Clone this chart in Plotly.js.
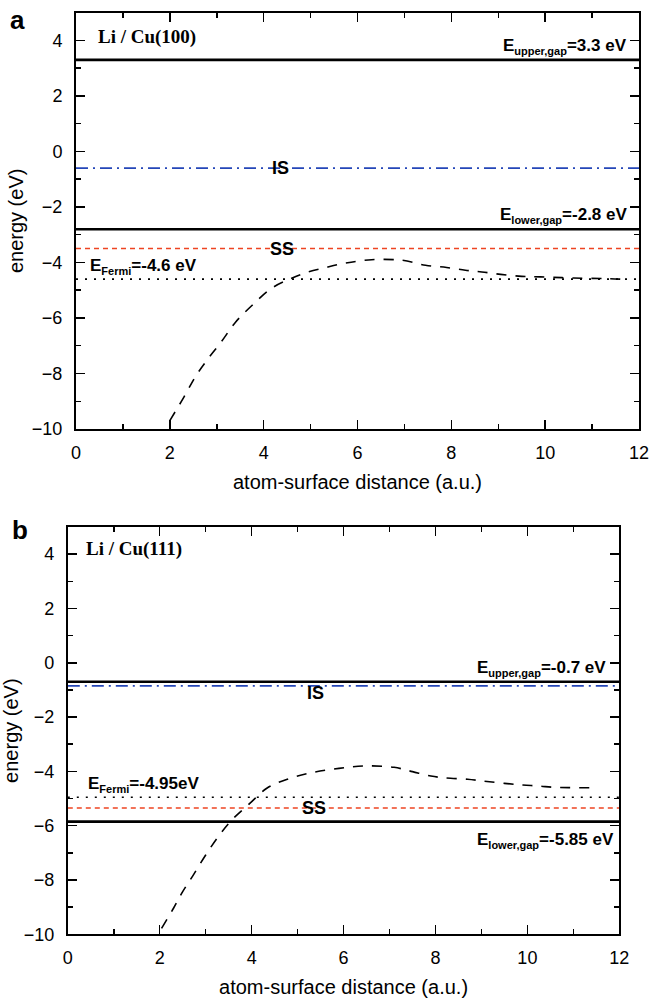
<!DOCTYPE html>
<html>
<head>
<meta charset="utf-8">
<script src="https://cdn.plot.ly/plotly-3.0.1.min.js"></script>
<style>html,body{margin:0;padding:0;background:#fff;}#plot{width:652px;height:1005px;}</style>
</head>
<body>
<div id="plot"></div>
<script>
// ---------- Data ----------
// Panel a: Li / Cu(100)
const levelNamesA = ['E_upper,gap', 'IS', 'E_lower,gap', 'SS', 'E_Fermi'];
const levelValuesA = [3.3, -0.6, -2.8, -3.5, -4.6];
const curveXA = [2.0, 2.3, 2.55, 2.8, 3.1, 3.4, 3.75, 4.15, 4.55, 4.9, 5.35, 5.75, 6.3, 6.95, 7.45, 7.9, 8.3, 8.65, 9.05, 9.5, 9.9, 10.6, 11.3, 11.6];
const curveYA = [-9.7, -8.85, -8.1, -7.5, -6.85, -6.15, -5.55, -4.95, -4.6, -4.37, -4.17, -4.02, -3.9, -3.92, -4.1, -4.18, -4.28, -4.34, -4.43, -4.5, -4.52, -4.56, -4.58, -4.6];

// Panel b: Li / Cu(111)
const levelNamesB = ['E_upper,gap', 'IS', 'E_Fermi', 'SS', 'E_lower,gap'];
const levelValuesB = [-0.7, -0.85, -4.95, -5.35, -5.85];
const curveXB = [2.04, 2.3, 2.5, 2.73, 3.0, 3.27, 3.57, 3.96, 4.33, 4.76, 5.3, 5.9, 6.5, 7.1, 7.5, 7.9, 8.2, 8.7, 9.05, 9.5, 9.9, 10.25, 10.6, 11.0, 11.5];
const curveYB = [-9.78, -9.04, -8.43, -7.82, -7.08, -6.41, -5.79, -5.18, -4.62, -4.3, -4.05, -3.89, -3.8, -3.85, -4.01, -4.17, -4.24, -4.29, -4.36, -4.44, -4.5, -4.54, -4.59, -4.6, -4.6];

const xRange = [0, 12];
const yRange = [-10, 5];
const xTickVals = [0, 2, 4, 6, 8, 10, 12];
const yTickVals = [-10, -8, -6, -4, -2, 0, 2, 4];

// ---------- Styles ----------
const FONT = 'Liberation Sans, Arial, sans-serif';
const styleFor = {
  'E_upper,gap': {color: '#000', width: 2.6, dash: 'solid'},
  'E_lower,gap': {color: '#000', width: 2.6, dash: 'solid'},
  'IS': {color: '#2446b8', width: 1.7, dash: '12px,5px,2px,5px'},
  'SS': {color: '#ee4422', width: 1.5, dash: '5px,4px'},
  'E_Fermi': {color: '#000', width: 1.6, dash: '2px,7px'}
};

function levelTraces(names, values, xa, ya) {
  return names.map((n, i) => ({
    type: 'scatter', mode: 'lines', name: n,
    x: [xRange[0], xRange[1]], y: [values[i], values[i]],
    xaxis: xa, yaxis: ya, line: styleFor[n], hoverinfo: 'skip', showlegend: false
  }));
}

const data = [
  ...levelTraces(levelNamesA, levelValuesA, 'x', 'y'),
  {type: 'scatter', mode: 'lines', x: curveXA, y: curveYA, xaxis: 'x', yaxis: 'y',
   line: {color: '#000', width: 1.6, dash: '10px,9px', shape: 'spline'}, showlegend: false},
  ...levelTraces(levelNamesB, levelValuesB, 'x2', 'y2'),
  {type: 'scatter', mode: 'lines', x: curveXB, y: curveYB, xaxis: 'x2', yaxis: 'y2',
   line: {color: '#000', width: 1.6, dash: '10px,9px', shape: 'spline'}, showlegend: false}
];

function xAxis(domain, anchor) {
  return {
    domain: domain, anchor: anchor, range: xRange, tickvals: xTickVals,
    ticks: 'inside', ticklen: 9, tickwidth: 1.5, tickcolor: '#000',
    minor: {dtick: 1, ticks: 'inside', ticklen: 5, tickwidth: 1.5, tickcolor: '#000', showgrid: false},
    showline: true, linewidth: 2, linecolor: '#000', mirror: 'ticks',
    showgrid: false, zeroline: false, ticklabelstandoff: 6,
    tickfont: {family: FONT, size: 18, color: '#000'},
    title: {text: 'atom-surface distance (a.u.)', font: {family: FONT, size: 20, color: '#000'}, standoff: 13}
  };
}
function yAxis(domain, anchor) {
  return {
    domain: domain, anchor: anchor, range: yRange, tickvals: yTickVals,
    ticks: 'inside', ticklen: 9, tickwidth: 1.5, tickcolor: '#000',
    minor: {dtick: 1, ticks: 'inside', ticklen: 5, tickwidth: 1.5, tickcolor: '#000', showgrid: false},
    showline: true, linewidth: 2, linecolor: '#000', mirror: 'ticks',
    showgrid: false, zeroline: false, ticklabelstandoff: 8,
    tickfont: {family: FONT, size: 18, color: '#000'},
    title: {text: 'energy (eV)', font: {family: FONT, size: 20, color: '#000'}, standoff: 3}
  };
}

const W = 652, H = 1005;
const domXA = [76 / W, 639 / W], domYA = [1 - 429 / H, 1 - 12.7 / H];
const domXB = [67.8 / W, 619.3 / W], domYB = [1 - 934.3 / H, 1 - 527 / H];

const bold = (s) => '<b>' + s + '</b>';
const sub = (s) => '<sub><span style="font-size:11px">' + s + '</span></sub>';
const annFont = {family: FONT, size: 17, color: '#000'};
const serifFont = {family: 'Liberation Serif, Times New Roman, serif', size: 19, color: '#000'};
const annotations = [
  // panel a
  {xref: 'paper', yref: 'paper', x: 17 / W, y: 1 - 20 / H, text: bold('a'), showarrow: false,
   font: {family: FONT, size: 26, color: '#000'}, xanchor: 'center', yanchor: 'middle'},
  {xref: 'x', yref: 'y', x: 0.42, y: 4.12, text: bold('Li / Cu(100)'), showarrow: false,
   font: serifFont, xanchor: 'left', yanchor: 'middle'},
  {xref: 'x', yref: 'y', x: 11.78, y: levelValuesA[0], text: bold('E' + sub('upper,gap') + '=3.3 eV'), showarrow: false,
   font: annFont, xanchor: 'right', yanchor: 'bottom', yshift: 1},
  {xref: 'x', yref: 'y', x: 4.35, y: levelValuesA[1], text: bold('IS'), showarrow: false,
   font: {family: FONT, size: 18, color: '#000'}, xanchor: 'center', yanchor: 'middle'},
  {xref: 'x', yref: 'y', x: 11.78, y: levelValuesA[2], text: bold('E' + sub('lower,gap') + '=-2.8 eV'), showarrow: false,
   font: annFont, xanchor: 'right', yanchor: 'bottom', yshift: 1},
  {xref: 'x', yref: 'y', x: 4.4, y: levelValuesA[3], text: bold('SS'), showarrow: false,
   font: {family: FONT, size: 18, color: '#000'}, xanchor: 'center', yanchor: 'middle'},
  {xref: 'x', yref: 'y', x: 0.25, y: levelValuesA[4], text: bold('E' + sub('Fermi') + '=-4.6 eV'), showarrow: false,
   font: annFont, xanchor: 'left', yanchor: 'bottom', yshift: 0},
  // panel b
  {xref: 'paper', yref: 'paper', x: 20 / W, y: 1 - 530 / H, text: bold('b'), showarrow: false,
   font: {family: FONT, size: 26, color: '#000'}, xanchor: 'center', yanchor: 'middle'},
  {xref: 'x2', yref: 'y2', x: 0.35, y: 4.18, text: bold('Li / Cu(111)'), showarrow: false,
   font: serifFont, xanchor: 'left', yanchor: 'middle'},
  {xref: 'x2', yref: 'y2', x: 11.75, y: levelValuesB[0], text: bold('E' + sub('upper,gap') + '=-0.7 eV'), showarrow: false,
   font: annFont, xanchor: 'right', yanchor: 'bottom', yshift: 1},
  {xref: 'x2', yref: 'y2', x: 5.38, y: -1.12, text: bold('IS'), showarrow: false,
   font: {family: FONT, size: 18, color: '#000'}, xanchor: 'center', yanchor: 'middle'},
  {xref: 'x2', yref: 'y2', x: 0.4, y: levelValuesB[2], text: bold('E' + sub('Fermi') + '=-4.95eV'), showarrow: false,
   font: annFont, xanchor: 'left', yanchor: 'bottom', yshift: 0},
  {xref: 'x2', yref: 'y2', x: 5.36, y: levelValuesB[3], text: bold('SS'), showarrow: false,
   font: {family: FONT, size: 18, color: '#000'}, xanchor: 'center', yanchor: 'middle'},
  {xref: 'x2', yref: 'y2', x: 11.92, y: levelValuesB[4], text: bold('E' + sub('lower,gap') + '=-5.85 eV'), showarrow: false,
   font: annFont, xanchor: 'right', yanchor: 'top', yshift: -6}
];

const layout = {
  width: W, height: H,
  margin: {l: 0, r: 0, t: 0, b: 0},
  paper_bgcolor: '#fff', plot_bgcolor: '#fff',
  showlegend: false,
  font: {family: FONT, color: '#000'},
  xaxis: xAxis(domXA, 'y'), yaxis: yAxis(domYA, 'x'),
  xaxis2: xAxis(domXB, 'y2'), yaxis2: yAxis(domYB, 'x2'),
  annotations: annotations
};

Plotly.newPlot('plot', data, layout, {displayModeBar: false, staticPlot: true});
</script>
</body>
</html>
